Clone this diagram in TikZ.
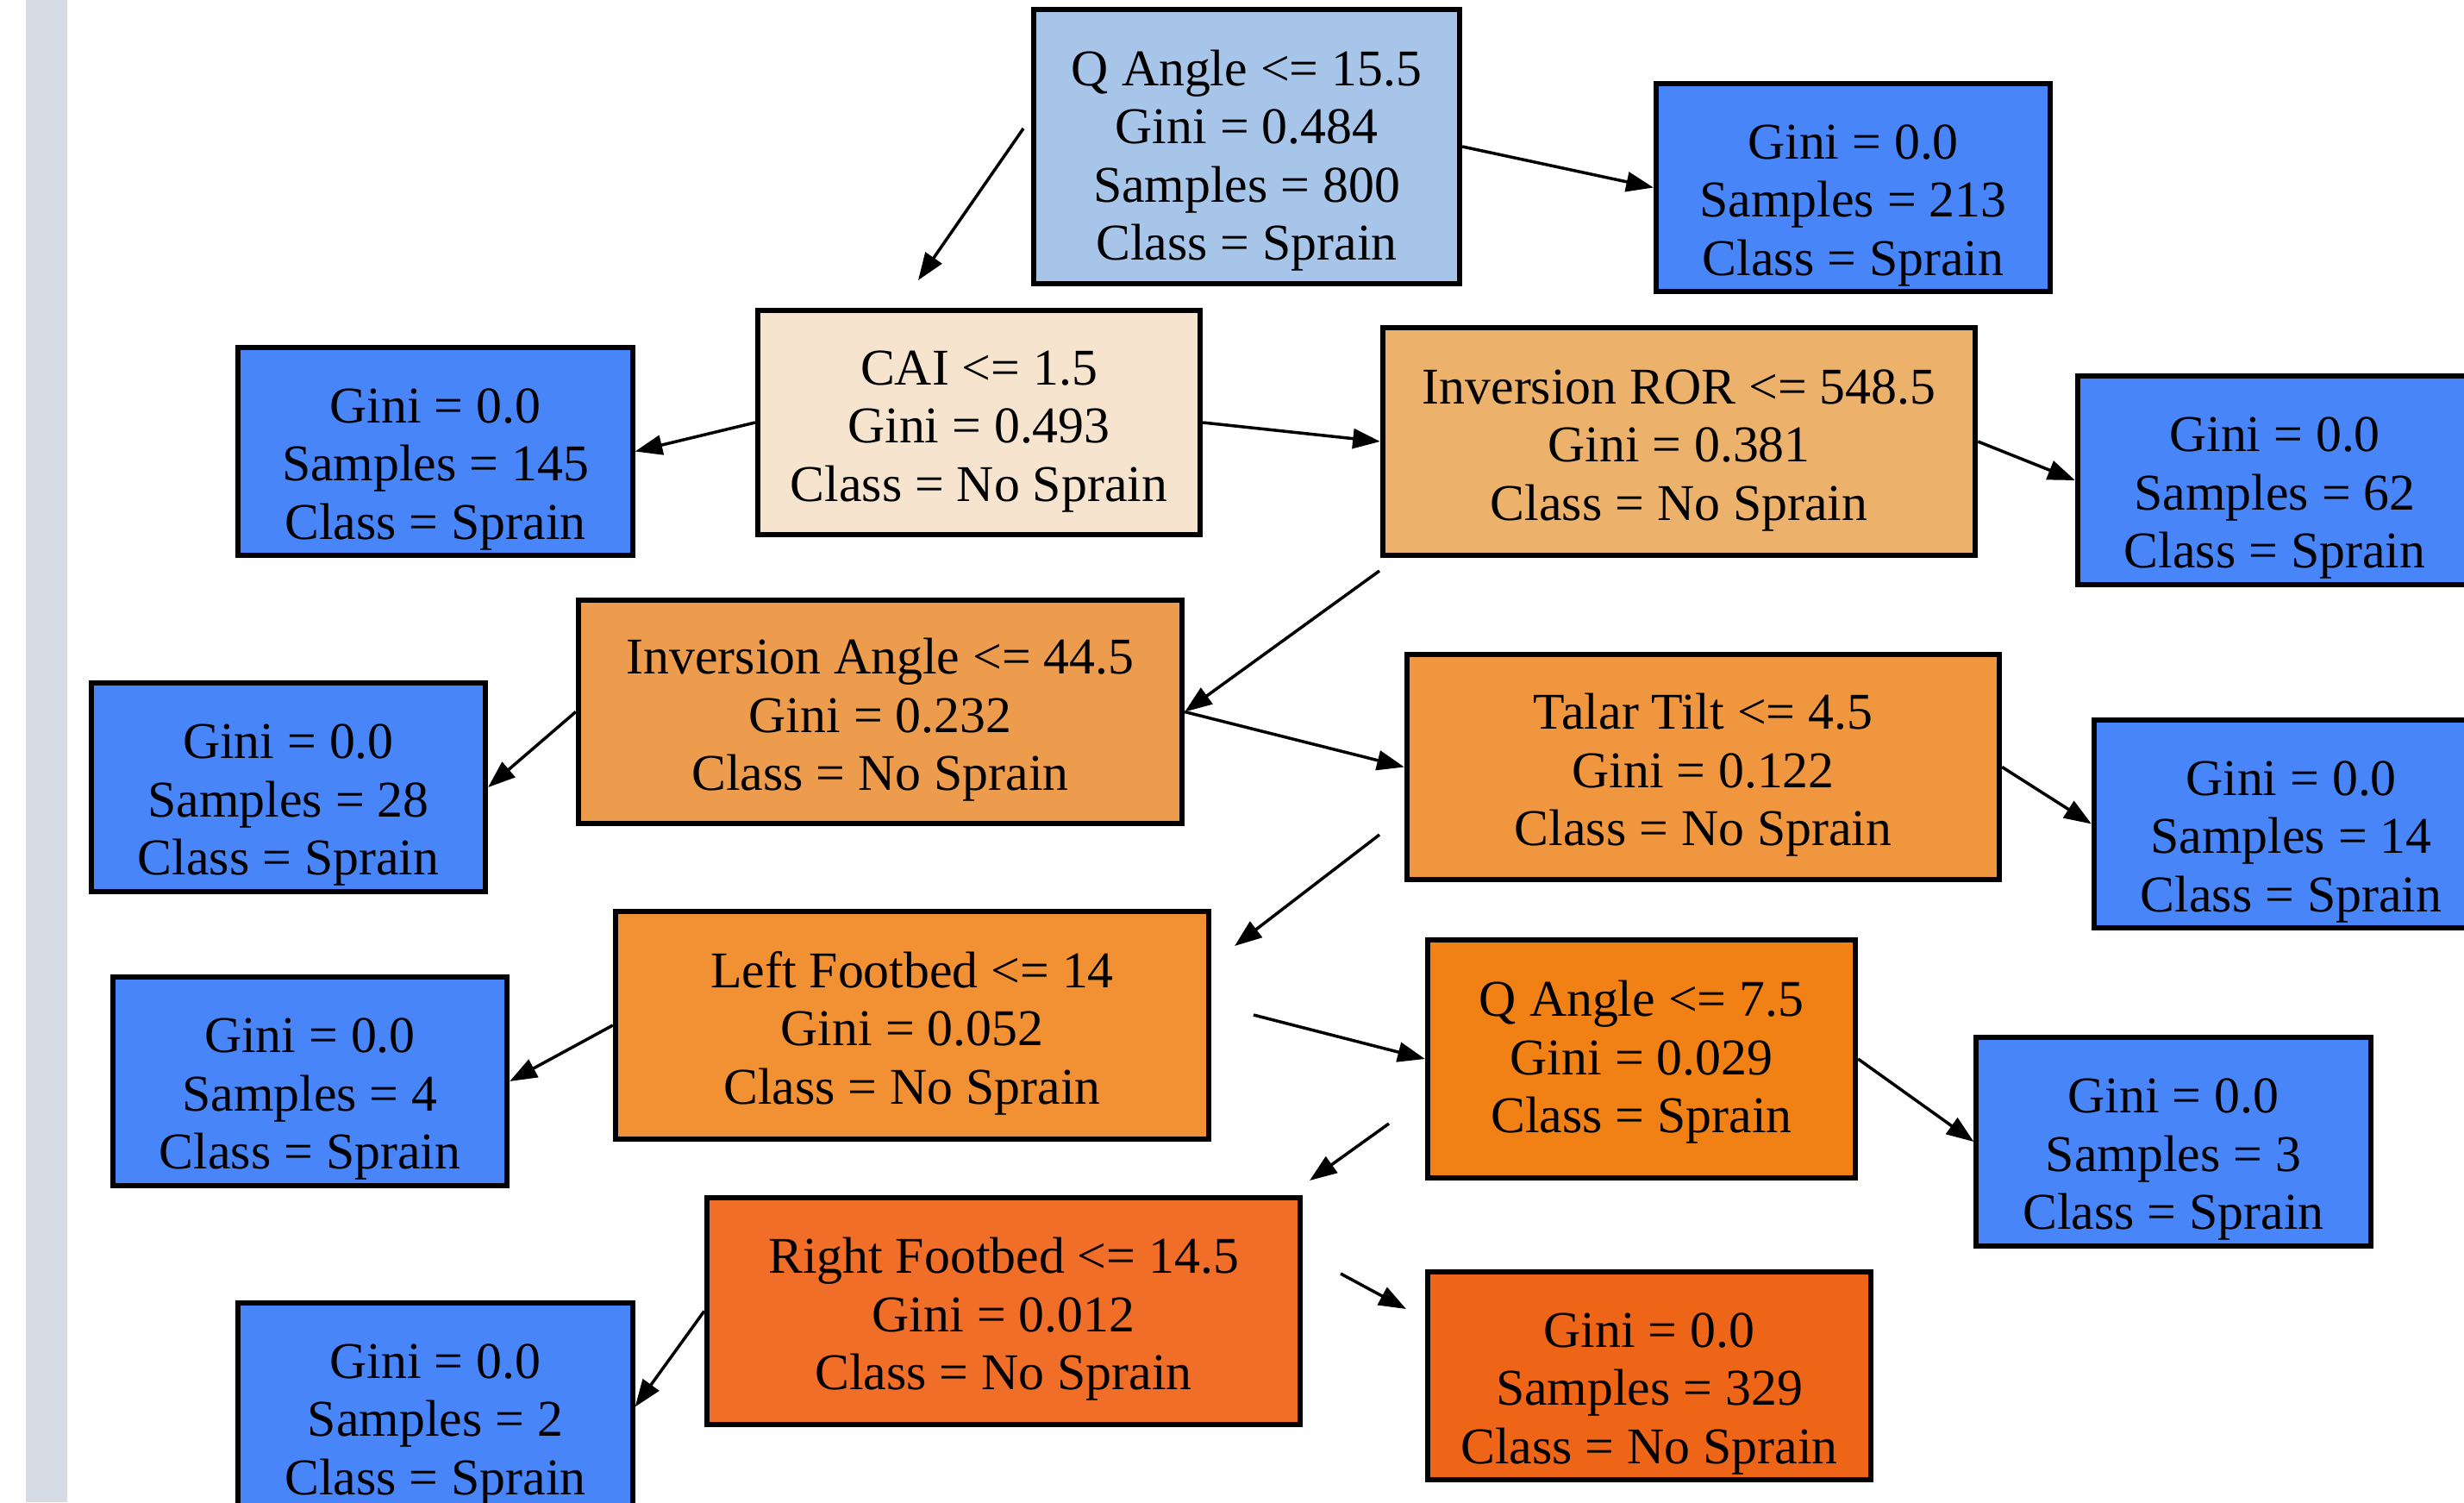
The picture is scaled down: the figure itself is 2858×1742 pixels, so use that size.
\documentclass[tikz,border=0pt]{standalone}
\usepackage{fontspec}
\setmainfont{Liberation Serif}
\usetikzlibrary{arrows.meta}
\definecolor{leafblue}{HTML}{4885F8}
\definecolor{rootc}{HTML}{A7C5E9}
\definecolor{caic}{HTML}{F7E4CE}
\definecolor{rorc}{HTML}{ECB26C}
\definecolor{angc}{HTML}{EC9C4C}
\definecolor{talarc}{HTML}{F0963E}
\definecolor{lfootc}{HTML}{F29134}
\definecolor{qsc}{HTML}{F18115}
\definecolor{rfootc}{HTML}{F06E27}
\definecolor{nsc}{HTML}{EF6518}
\definecolor{graybar}{HTML}{D6DCE6}
\newcommand\tstrut{\rule{0pt}{23pt}}
\newcommand\rstrut{\rule{0pt}{21pt}}
\newcommand\istrut{\rule{0pt}{17pt}}
\newcommand\qstrut{\rule{0pt}{14pt}}
\begin{document}
\begin{tikzpicture}[x=0.01cm,y=-0.01cm,
  nbox/.style={draw=black, line width=1.7pt, align=center, inner sep=0pt,
    font=\fontsize{17}{19.2}\selectfont, text=black},
  leaf/.style={nbox, fill=leafblue, minimum width=4.57cm, minimum height=2.41cm},
  arr/.style={line width=1pt, -{Triangle[length=9pt,width=6.5pt]}}]
\fill[white] (0,0) rectangle (2858,1742);
\useasboundingbox (0,0) rectangle (2858,1742);
\fill[graybar] (30,0) rectangle (78,1742);

\node[nbox, fill=rootc, minimum width=4.94cm, minimum height=3.18cm] (root) at (1446,170)
  {\rstrut Q Angle <= 15.5\\Gini = 0.484\\Samples = 800\\Class = Sprain};
\node[leaf] (l213) at (2149.5,217.5) {\tstrut Gini = 0.0\\Samples = 213\\Class = Sprain};
\node[nbox, fill=caic, minimum width=5.13cm, minimum height=2.60cm] (cai) at (1135.5,490)
  {\istrut CAI <= 1.5\\Gini = 0.493\\Class = No Sprain};
\node[leaf] (l145) at (505,523.5) {\tstrut Gini = 0.0\\Samples = 145\\Class = Sprain};
\node[nbox, fill=rorc, minimum width=6.87cm, minimum height=2.64cm] (ror) at (1947.5,512)
  {\istrut Inversion ROR <= 548.5\\Gini = 0.381\\Class = No Sprain};
\node[leaf] (l62) at (2638.5,557) {\tstrut Gini = 0.0\\Samples = 62\\Class = Sprain};
\node[nbox, fill=angc, minimum width=7.00cm, minimum height=2.59cm] (ang) at (1021,825.5)
  {\istrut Inversion Angle <= 44.5\\Gini = 0.232\\Class = No Sprain};
\node[leaf] (l28) at (334.5,913) {\tstrut Gini = 0.0\\Samples = 28\\Class = Sprain};
\node[nbox, fill=talarc, minimum width=6.87cm, minimum height=2.61cm] (talar) at (1975.5,889.5)
  {\istrut Talar Tilt <= 4.5\\Gini = 0.122\\Class = No Sprain};
\node[leaf] (l14) at (2657.5,955.5) {\tstrut Gini = 0.0\\Samples = 14\\Class = Sprain};
\node[nbox, fill=lfootc, minimum width=6.88cm, minimum height=2.64cm] (lfoot) at (1058,1189)
  {\istrut Left Footbed <= 14\\Gini = 0.052\\Class = No Sprain};
\node[leaf] (l4) at (359.5,1254) {\tstrut Gini = 0.0\\Samples = 4\\Class = Sprain};
\node[nbox, fill=qsc, minimum width=4.96cm, minimum height=2.76cm] (qs) at (1904,1228)
  {\qstrut Q Angle <= 7.5\\Gini = 0.029\\Class = Sprain};
\node[leaf] (l3) at (2521,1324) {\tstrut Gini = 0.0\\Samples = 3\\Class = Sprain};
\node[nbox, fill=rfootc, minimum width=6.88cm, minimum height=2.63cm] (rfoot) at (1164,1520.5)
  {\istrut Right Footbed <= 14.5\\Gini = 0.012\\Class = No Sprain};
\node[leaf] (l2) at (505,1631.5) {\tstrut Gini = 0.0\\Samples = 2\\Class = Sprain};
\node[nbox, fill=nsc, minimum width=5.14cm, minimum height=2.41cm] (l329) at (1913,1595.5)
  {\tstrut Gini = 0.0\\Samples = 329\\Class = No Sprain};

% free ends of connectors
\coordinate (rootS) at (1187,149);
\coordinate (caiT) at (1065,325);
\coordinate (rorS) at (1600,662);
\coordinate (talarS) at (1600,968);
\coordinate (lfootT) at (1432,1097);
\coordinate (lfootS) at (1454,1177);
\coordinate (qsS) at (1611,1303);
\coordinate (rfootT) at (1519,1369);
\coordinate (rfootS) at (1555,1477);
\coordinate (l329T) at (1631,1518);

\draw[arr] (rootS) -- (caiT);
\draw[arr] (root.east) -- (l213.west);
\draw[arr] (cai.west) -- (l145.east);
\draw[arr] (cai.east) -- (ror.west);
\draw[arr] (ror.east) -- (l62.west);
\draw[arr] (rorS) -- (ang.east);
\draw[arr] (ang.west) -- (l28.east);
\draw[arr] (ang.east) -- (talar.west);
\draw[arr] (talar.east) -- (l14.west);
\draw[arr] (talarS) -- (lfootT);
\draw[arr] (lfoot.west) -- (l4.east);
\draw[arr] (lfootS) -- (qs.west);
\draw[arr] (qs.east) -- (l3.west);
\draw[arr] (qsS) -- (rfootT);
\draw[arr] (rfoot.west) -- (l2.east);
\draw[arr] (rfootS) -- (l329T);
\end{tikzpicture}
\end{document}
